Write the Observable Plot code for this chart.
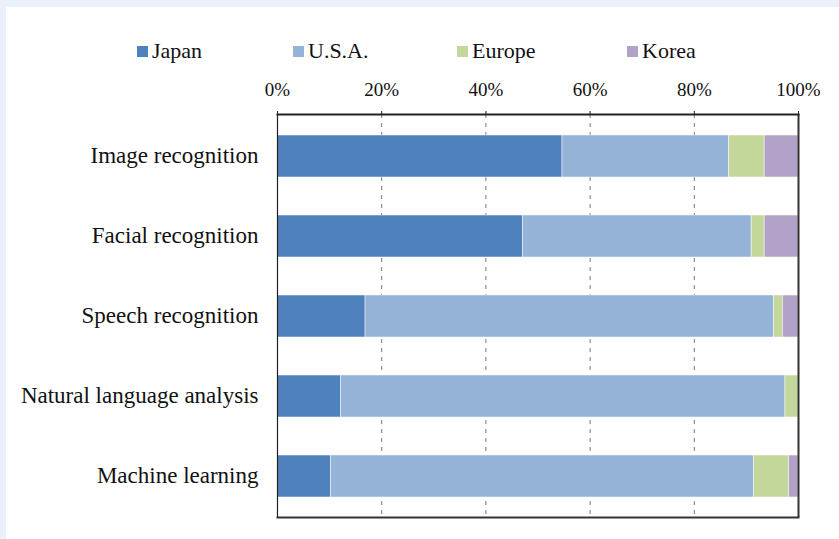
<!DOCTYPE html>
<html>
<head>
<meta charset="utf-8">
<script src="https://cdn.jsdelivr.net/npm/d3@7"></script>
<script src="https://cdn.jsdelivr.net/npm/@observablehq/plot@0.6"></script>
<style>
  html, body { margin: 0; padding: 0; background: #eaf1fc; width: 839px; height: 539px; overflow: hidden; }
  #panel { position: absolute; left: 6px; top: 7px; width: 833px; height: 532px; background: #fff; }
  #legend { position: relative; height: 58px; }
  .item { position: absolute; top: 31px; display: flex; align-items: center; font-family: 'Liberation Serif', 'Times New Roman', serif; font-size: 22px; color: #111; line-height: 26px; }
  .sw { width: 11px; height: 11px; margin-right: 4px; }
  svg { display: block; }
</style>
</head>
<body>
<div id="panel">
  <div id="legend"></div>
  <div id="chart"></div>
</div>
<script>
const categories = ["Image recognition", "Facial recognition", "Speech recognition", "Natural language analysis", "Machine learning"];
const regions = ["Japan", "U.S.A.", "Europe", "Korea"];
const colors = ["#4f81bd", "#95b3d7", "#c4d79b", "#b2a2c7"];
const japan  = [0.547, 0.471, 0.169, 0.122, 0.103];
const usa    = [0.320, 0.439, 0.784, 0.853, 0.812];
const europe = [0.068, 0.025, 0.017, 0.025, 0.067];
const korea  = [0.065, 0.065, 0.030, 0.000, 0.018];
const tickValues = [0, 0.2, 0.4, 0.6, 0.8, 1.0];
const legendLeft = [131, 287, 451, 621];

const series = [japan, usa, europe, korea];
const data = [];
categories.forEach((c, i) => {
  regions.forEach((r, j) => data.push({category: c, region: r, value: series[j][i]}));
});

const legend = document.getElementById("legend");
regions.forEach((r, j) => {
  const it = document.createElement("div");
  it.className = "item";
  it.style.left = legendLeft[j] + "px";
  it.innerHTML = `<span class="sw" style="background:${colors[j]}"></span><span>${r}</span>`;
  legend.appendChild(it);
});

const chart = Plot.plot({
  width: 833,
  height: 474,
  marginTop: 49,
  marginBottom: 22,
  marginLeft: 271,
  marginRight: 41,
  style: {fontFamily: "'Liberation Serif', 'Times New Roman', serif", color: "#111", background: "transparent"},
  x: {domain: [0, 1], axis: null, label: null},
  y: {domain: categories, paddingInner: 0.48, paddingOuter: 0.24, axis: null, label: null},
  color: {domain: regions, range: colors},
  marks: [
    Plot.gridX(tickValues.slice(1, -1), {stroke: "#777", strokeOpacity: 1, strokeDasharray: "4,5", strokeWidth: 1}),
    Plot.barX(data, Plot.stackX({x: "value", y: "category", fill: "region", order: regions, inset: 0, stroke: "white", strokeWidth: 0.5})),
    Plot.axisX(tickValues, {anchor: "top", label: null, tickFormat: d3.format(".0%"), tickSize: 4, tickPadding: 15, fontSize: 19, stroke: "#222"}),
    Plot.axisY({anchor: "left", label: null, tickSize: 0, tickPadding: 19, fontSize: 23, dy: -1}),
    Plot.ruleX([0], {stroke: "#222", strokeWidth: 1.2}),
    Plot.ruleX([1], {stroke: "#333", strokeWidth: 2}),
    Plot.frame({anchor: "top", stroke: "#222", strokeWidth: 2}),
    Plot.frame({anchor: "bottom", stroke: "#333", strokeWidth: 2})
  ]
});
document.getElementById("chart").appendChild(chart);
</script>
</body>
</html>
